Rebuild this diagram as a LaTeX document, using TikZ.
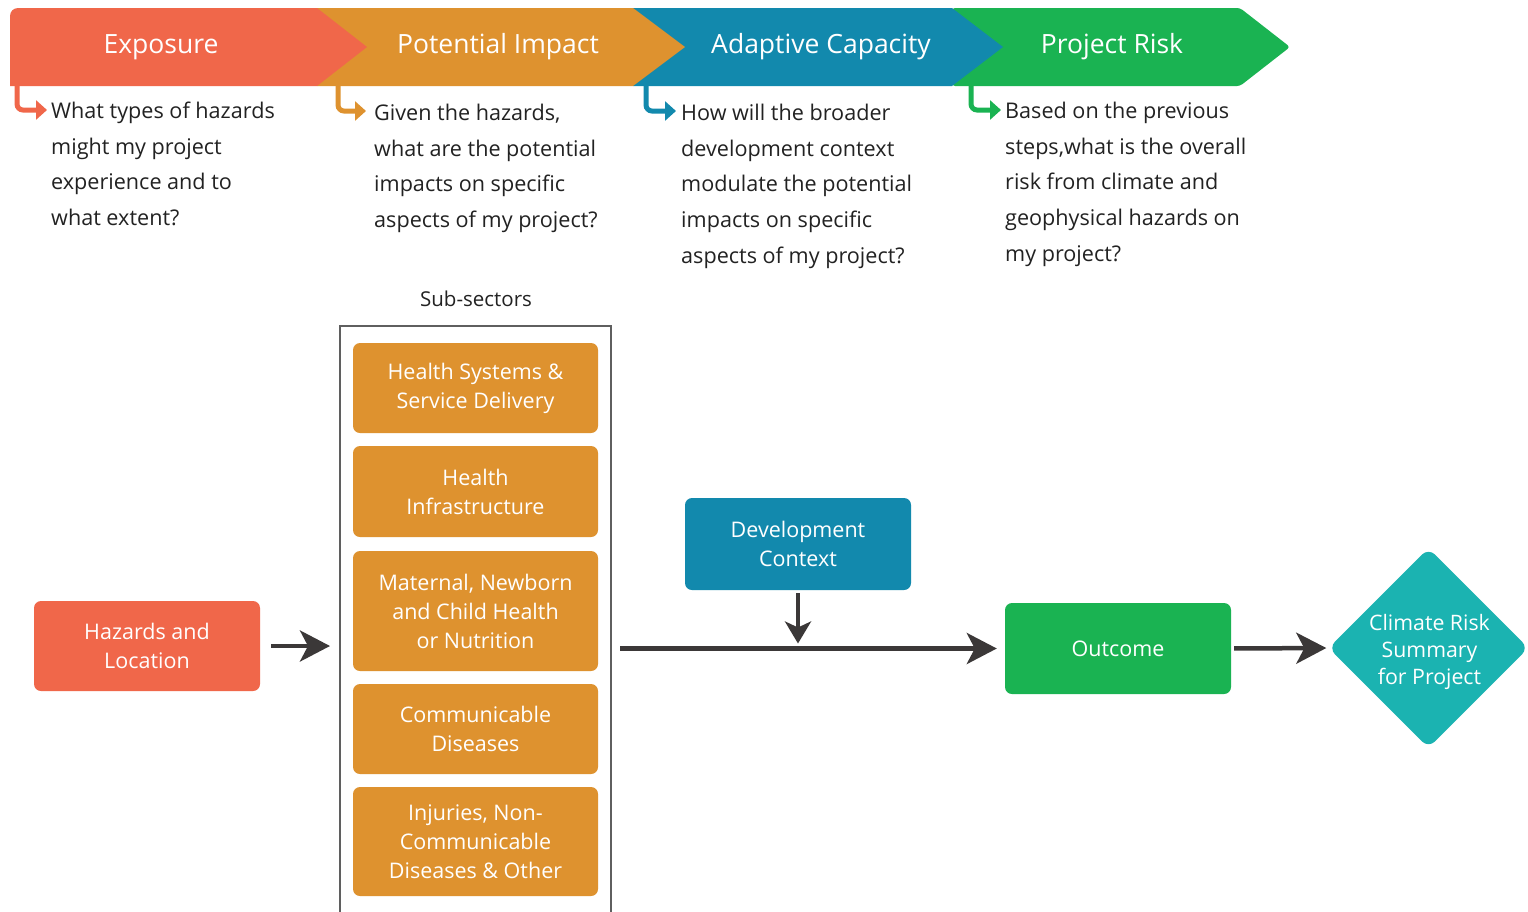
\documentclass[tikz,border=0pt]{standalone}
\usepackage{fontspec}
\setmainfont{Open Sans}
\usetikzlibrary{arrows.meta,shapes.geometric}

\definecolor{cExp}{HTML}{F0674A}
\definecolor{cImp}{HTML}{DE922F}
\definecolor{cAda}{HTML}{1289AD}
\definecolor{cRisk}{HTML}{1AB352}
\definecolor{cSum}{HTML}{1BB3B1}
\definecolor{cArr}{HTML}{3B3838}
\definecolor{cTxt}{HTML}{222222}
\definecolor{cFrame}{HTML}{5F5F5F}

\begin{document}
\begin{tikzpicture}[x=1pt,y=-1pt,
  chevron/.style={fill=#1, draw=none},
  headtext/.style={text=white, font=\fontsize{26.5}{30}\selectfont, inner sep=0},
  question/.style={text=cTxt, align=left, anchor=north west, inner sep=0,
    font=\fontsize{21.6}{35.6}\selectfont},
  bend/.style={draw=#1, line width=5pt, rounded corners=6pt,
    -{Triangle[length=11pt,width=19pt]}},
  card/.style={fill=#1, rounded corners=7pt, text=white, align=center,
    inner sep=0, font=\fontsize{21.5}{29}\selectfont},
  flow/.style={draw=cArr, line width=4.5pt,
    -{Stealth[length=30pt,width=31pt,inset=8pt]}},
  flowsmall/.style={draw=cArr, line width=4pt,
    -{Stealth[length=22pt,width=26pt,inset=6pt]}},
]
\useasboundingbox (0,0) rectangle (1528,911);
\fill[white] (0,0) rectangle (1528,911);

% header band, drawn right to left so each tip covers the next notch
\fill[chevron=cRisk, rounded corners=3pt] (952,8) -- (1240,8) -- (1290,47) -- (1240,86) -- (952,86) -- cycle;
\fill[chevron=cAda] (633,8) -- (952,8) -- (1003,47) -- (952,86) -- (633,86) -- cycle;
\fill[chevron=cImp] (317,8) -- (633,8) -- (685,47) -- (633,86) -- (317,86) -- cycle;
\fill[chevron=cExp] (10,86) -- (10,16) arc[start angle=180, end angle=270, radius=8]
  -- (317,8) -- (367,47) -- (317,86) -- cycle;

\node[headtext] (hExp) at (161,47) {Exposure};
\node[headtext] (hImp) at (498,47) {Potential Impact};
\node[headtext] (hAda) at (821,47) {Adaptive Capacity};
\node[headtext] (hRisk) at (1112,47) {Project Risk};

% questions under each stage
\node[question] (qExp) at (51,102) {What types of hazards\\might my project\\experience and to\\what extent?};
\node[question] (qImp) at (374,104) {Given the hazards,\\what are the potential\\impacts on specific\\aspects of my project?};
\node[question] (qAda) at (681,104) {How will the broader\\development context\\modulate the potential\\impacts on specific\\aspects of my project?};
\node[question] (qRisk) at (1005,102) {Based on the previous\\steps,what is the overall\\risk from climate and\\geophysical hazards on\\my project?};

% bent pointers from each stage to its question
\coordinate (bExp) at (17,86);
\coordinate (bImp) at (338,86);
\coordinate (bAda) at (646,86);
\coordinate (bRisk) at (971,86);
\draw[bend=cExp] (bExp) |- ([xshift=-4pt]qExp.west |- 0,110);
\draw[bend=cImp] (bImp) |- ([xshift=-8pt]qImp.west |- 0,111);
\draw[bend=cAda] (bAda) |- ([xshift=-5pt]qAda.west |- 0,111);
\draw[bend=cRisk] (bRisk) |- ([xshift=-4pt]qRisk.west |- 0,110);

% sub-sector column
\node[text=cTxt, font=\fontsize{20.5}{24}\selectfont, inner sep=0] (subtitle) at (476,299) {Sub-sectors};
\coordinate (frameL) at (340,326);
\coordinate (frameR) at (611,326);
\draw[cFrame, line width=1.5pt] (340,915) -- (frameL) -- (frameR) -- (611,915);

\node[card=cImp, minimum width=245pt, minimum height=90pt] (s1) at (475.5,388) {Health Systems \&\\Service Delivery};
\node[card=cImp, minimum width=245pt, minimum height=91pt] (s2) at (475.5,491.5) {Health\\Infrastructure};
\node[card=cImp, minimum width=245pt, minimum height=120pt] (s3) at (475.5,611) {Maternal, Newborn\\and Child Health\\or Nutrition};
\node[card=cImp, minimum width=245pt, minimum height=90pt] (s4) at (475.5,729) {Communicable\\Diseases};
\node[card=cImp, minimum width=245pt, minimum height=109pt] (s5) at (475.5,841.5) {Injuries, Non-\\Communicable\\Diseases \& Other};

% main chain
\node[card=cExp, minimum width=226pt, minimum height=90pt] (haz) at (147,646) {Hazards and\\Location};
\node[card=cAda, minimum width=226pt, minimum height=92pt] (dev) at (798,544) {Development\\Context};
\node[card=cRisk, minimum width=226pt, minimum height=91pt] (out) at (1118,648.5) {Outcome};
\node[shape=diamond, aspect=1, minimum size=200pt, inner sep=0, fill=cSum,
  rounded corners=9pt] (sum) at (1428.5,648) {};
\node[text=white, align=center, inner sep=0,
  font=\fontsize{21.3}{27}\selectfont] (sumtext) at ([xshift=1pt,yshift=-4pt]sum.center)
  {Climate Risk\\Summary\\for Project};

\draw[flow, shorten <=11pt, shorten >=10pt] (haz.east) -- (haz.east -| frameL);
\draw[flow, shorten <=9pt, shorten >=8pt] (out.west -| frameR) -- (out.west);
\draw[flowsmall, shorten <=3pt, shorten >=5pt] (dev.south) -- (dev.south |- out.west);
\draw[flow, shorten <=3pt, shorten >=2pt] (out.east) -- (sum.west);
\end{tikzpicture}
\end{document}
